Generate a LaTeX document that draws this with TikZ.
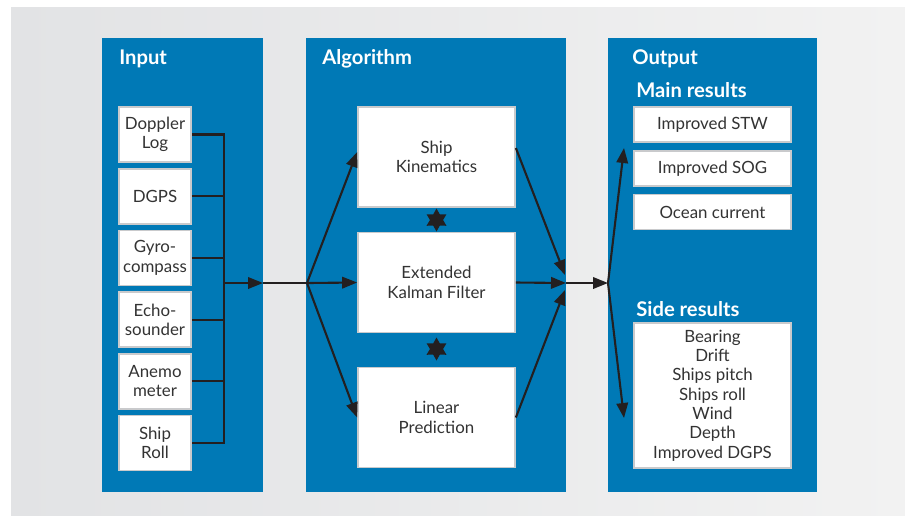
\documentclass[tikz,border=0pt]{standalone}
\usepackage{fontspec}
\setmainfont{Lato}
\usetikzlibrary{arrows.meta,positioning,shapes.geometric}
\definecolor{panelblue}{HTML}{0079B6}
\definecolor{bgleft}{HTML}{E2E3E5}
\definecolor{bgright}{HTML}{F2F2F2}
\definecolor{boxedge}{HTML}{C9CACC}
\definecolor{boxtext}{HTML}{333333}
\definecolor{linkcol}{HTML}{231F20}

\begin{document}
\begin{tikzpicture}[x=0.02cm,y=-0.02cm,
                    >={Triangle[length=3mm,width=2.3mm]}]
  \tikzset{
    title/.style={anchor=base west,text=white,inner sep=0pt,
                  font=\bfseries\fontsize{11.5}{13}\selectfont},
    box/.style={draw=boxedge,line width=1pt,fill=white,text=boxtext,
                align=center,inner sep=1pt,
                font=\fontsize{9.6}{11}\selectfont},
    srcbox/.style={box,minimum width=1.44cm,minimum height=1.10cm},
    algbox/.style={box,minimum width=3.14cm,minimum height=2.0cm},
    resbox/.style={box,minimum width=3.14cm,minimum height=0.70cm},
    link/.style={draw=linkcol,line width=1.2pt},
    flow/.style={link,->},
    knot/.style={star,star points=6,star point ratio=1.75,fill=linkcol,
                 minimum size=0.46cm,inner sep=0pt}
  }
  \useasboundingbox (0,0) rectangle (905,515);
  \fill[white] (0,0) rectangle (905,515);
  \shade[left color=bgleft,right color=bgright] (11,7) rectangle (905,515);

  % panels
  \fill[panelblue] (102,38) rectangle (263,492);
  \fill[panelblue] (306,38) rectangle (566,492);
  \fill[panelblue] (608,38) rectangle (817,492);

  \node[title] (tin)   at (119,64)  {Input};
  \node[title] (talg)  at (322,64)  {Algorithm};
  \node[title] (tout)  at (632,64)  {Output};
  \node[title] (tmain) at (636,97)  {Main results};
  \node[title] (tside) at (636,316) {Side results};

  % sensors
  \node[srcbox] (dop)  at (155,134.5) {Doppler\\Log};
  \node[srcbox] (dgps) at (155,196.2) {DGPS};
  \node[srcbox] (gyro) at (155,257.9) {Gyro-\\compass};
  \node[srcbox] (echo) at (155,319.6) {Echo-\\sounder};
  \node[srcbox] (anem) at (155,381.3) {Anemo\\meter};
  \node[srcbox] (roll) at (155,443)   {Ship\\Roll};

  \coordinate (bustop) at (224,134.5);
  \coordinate (busbot) at (224,443);
  \coordinate (busout) at (224,283);
  \coordinate (inedge) at (263,283);
  \coordinate (split)  at (307,283);

  \draw[link] (dop.east) -- (bustop) -- (busbot) -- (roll.east);
  \foreach \s in {dgps,gyro,echo,anem}
    \draw[link] (\s.east) -- (\s.east -| bustop);
  \draw[flow] (busout) -- (inedge);
  \draw[link] (inedge) -- (split);

  % algorithm
  \node[algbox] (kin) at (436.5,157)   {Ship\\Kinematics};
  \node[algbox] (ekf) at (436.5,282.5) {Extended\\Kalman Filter};
  \node[algbox] (lin) at (436.5,417.5) {Linear\\Prediction};
  \node[knot] (k1) at (436.5,220) {};
  \node[knot] (k2) at (436.5,349) {};

  \draw[flow] (split) -- ([yshift=0.1cm]kin.west);
  \draw[flow] (split) -- (ekf.west);
  \draw[flow] (split) -- (lin.west);

  \coordinate (merge) at (566,283);
  \coordinate (outsplit) at (608,283);
  \draw[flow] ([yshift=0.18cm]kin.east) -- (565,275);
  \draw[flow] (ekf.east) -- (merge);
  \draw[flow] (lin.east) -- (565,290);
  \draw[flow] (merge) -- (outsplit);

  % results
  \node[resbox] (stw) at (712.5,124.5) {Improved STW};
  \node[resbox] (sog) at (712.5,168.5) {Improved SOG};
  \node[resbox] (cur) at (712.5,212)   {Ocean current};
  \node[box,minimum width=3.14cm,minimum height=2.9cm] (side) at (712.5,395.5)
    {Bearing\\Drift\\Ships pitch\\Ships roll\\Wind\\Depth\\Improved DGPS};

  \coordinate (upend) at (624,148);
  \coordinate (dnend) at (624,418);
  \draw[flow] (outsplit) -- (upend);
  \draw[flow] (outsplit) -- (dnend);
\end{tikzpicture}
\end{document}
